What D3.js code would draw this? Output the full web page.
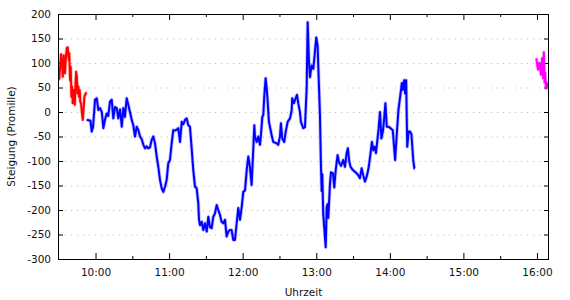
<!DOCTYPE html>
<html><head><meta charset="utf-8">
<script src="https://cdn.jsdelivr.net/npm/d3@7"></script>
<style>body{margin:0;background:#fff}svg{display:block}text{font-family:"DejaVu Sans",Verdana,sans-serif;fill:#111}</style>
</head><body><svg id="c" width="570" height="300"></svg>
<script>
// times are minutes since midnight
const redTime=[569.7,570.5,571.9,572.7,573.3,574.1,574.6,575.1,575.7,576.5,577.3,578.2,578.6,579.2,579.8,580.3,580.8,581.4,582.0,582.5,583.1,583.7,584.2,584.8,585.3,586.0,586.5,587.1,587.6,588.2,588.8,589.6,590.4,590.9,592.0,592.8];
const redVal=[65,69,118,99,72,116,86,79,106,130,132,106,120,65,92,31,52,18,45,31,15,59,82,72,38,52,31,45,20,18,1,-16,11,31,38,40];
const blueTime=[592.8,594.3,595.9,596.9,598.0,599.6,601.0,602.3,603.7,605.1,606.4,607.7,609.1,610.4,611.8,613.2,614.5,615.9,617.3,618.6,620.0,621.4,622.7,624.0,625.4,626.7,628.1,629.5,630.8,632.2,633.6,634.9,636.3,637.6,639.0,640.4,641.7,643.0,644.4,645.8,647.1,648.5,649.9,651.2,652.6,654.0,655.3,656.7,658.0,659.3,660.7,662.1,663.4,664.8,666.2,667.5,668.9,670.3,671.6,673.0,674.3,675.7,677.0,678.4,679.7,681.1,682.5,683.8,684.4,685.2,686.6,687.9,689.3,690.7,692.0,693.3,694.7,696.0,697.4,698.8,700.1,701.5,702.8,704.2,705.6,706.9,708.3,709.6,711.0,712.3,713.7,715.1,716.4,717.8,719.2,720.5,721.9,723.3,724.6,725.9,727.3,728.6,729.5,730.0,731.4,732.7,734.1,734.9,736.0,736.8,737.6,738.7,739.6,740.4,741.4,743.6,744.9,747.7,749.0,750.4,751.2,752.3,753.9,755.1,756.7,758.6,760.0,760.4,761.8,763.2,764.3,765.3,766.7,767.5,769.4,770.8,772.2,773.0,774.0,774.9,776.2,777.6,778.9,780.0,781.1,782.2,783.0,783.8,784.4,784.9,785.7,786.5,787.7,788.5,789.3,789.8,791.2,792.0,793.6,794.7,795.8,797.4,798.5,800.2,802.0,803.4,804.8,805.8,806.9,808.0,809.7,811.5,812.9,814.2,815.6,817.0,818.3,819.7,821.1,822.4,823.2,824.3,825.4,826.5,827.6,828.7,830.9,832.0,833.1,834.3,835.3,836.4,837.5,838.8,840.6,842.4,844.3,845.7,847.0,848.4,849.8,850.6,851.7,852.5,853.3,854.2,855.3,856.4,857.6,859.1,860.0,860.5];
const blueVal=[-16,-17,-18,-40,-30,25,28,4,8,0,-33,-16,-3,-8,21,25,-13,10,8,-13,5,-30,8,-10,28,15,0,-16,-27,-50,-30,-37,-50,-55,-67,-74,-70,-74,-72,-57,-50,-64,-91,-112,-139,-156,-163,-152,-139,-105,-98,-64,-37,-38,-36,-33,-61,-20,-25,-16,-13,-27,-30,-74,-118,-152,-156,-186,-220,-231,-224,-241,-227,-244,-214,-235,-237,-214,-207,-190,-200,-210,-224,-227,-220,-254,-244,-241,-241,-261,-261,-227,-196,-220,-194,-163,-160,-118,-91,-112,-149,-78,-27,-50,-61,-50,-67,-47,-10,-6,31,69,48,21,-20,-47,-61,-64,-67,-50,-23,-54,-61,-40,-20,-13,4,28,18,28,35,18,0,-20,-33,-31,50,183,105,71,95,88,122,152,135,54,-4,-106,-161,-127,-208,-235,-276,-194,-188,-216,-147,-123,-125,-154,-120,-88,-102,-110,-98,-112,-84,-74,-101,-112,-118,-122,-125,-129,-135,-115,-129,-142,-132,-118,-105,-84,-61,-78,-71,-84,-33,0,-54,-40,-16,18,-30,-30,-33,-37,-98,-44,4,31,59,45,65,38,65,-71,-40,-40,-45,-98,-115,-115];
const magTime=[959.5,960.2,961.0,961.5,962.4,963.2,963.7,964.2,965.0,965.6,966.2,966.7,967.3,968.1,968.9,969.7];
const magVal=[110,95,86,100,99,76,95,110,69,122,60,80,48,59,52,55];
const yTicks=[200,150,100,50,0,-50,-100,-150,-200,-250,-300];
const xMajor=[600,660,720,780,840,900,960];
const xMinor=[630,690,750,810,870,930];
const xLabels=["10:00","11:00","12:00","13:00","14:00","15:00","16:00"];
const yTitle="Steigung (Promille)", xTitle="Uhrzeit";

const L=58,R=549,T=14,B=259;
const svg=d3.select("#c");
const x=d3.scaleLinear().domain([569.4,969.8]).range([L,R]);
const y=d3.scaleLinear().domain([-300,200]).range([B,T]);

// grid
svg.append("g").selectAll("line").data(yTicks.filter(v=>v<200&&v>-300)).join("line")
  .attr("x1",L+1).attr("x2",R-1).attr("y1",d=>y(d)+0.5).attr("y2",d=>y(d)+0.5)
  .attr("stroke","#bbb").attr("stroke-width",1).attr("stroke-dasharray","1,5");

// axes (ticks inward)
const fmt=d=>xLabels[xMajor.indexOf(d)];
const bx=svg.append("g").attr("transform",`translate(0,${B})`)
  .call(d3.axisBottom(x).tickValues(xMajor).tickFormat(fmt).tickSizeInner(-6).tickSizeOuter(0).tickPadding(10));
const bxm=svg.append("g").attr("transform",`translate(0,${B})`)
  .call(d3.axisBottom(x).tickValues(xMinor).tickFormat("").tickSizeInner(-3).tickSizeOuter(0));
const tx=svg.append("g").attr("transform",`translate(0,${T})`)
  .call(d3.axisTop(x).tickValues(xMajor).tickFormat("").tickSizeInner(-6).tickSizeOuter(0));
const txm=svg.append("g").attr("transform",`translate(0,${T})`)
  .call(d3.axisTop(x).tickValues(xMinor).tickFormat("").tickSizeInner(-3).tickSizeOuter(0));
const ly=svg.append("g").attr("transform",`translate(${L},0)`)
  .call(d3.axisLeft(y).tickValues(yTicks).tickFormat(d=>String(d).replace("−","-")).tickSizeInner(-5).tickSizeOuter(0).tickPadding(7));
const ry=svg.append("g").attr("transform",`translate(${R},0)`)
  .call(d3.axisRight(y).tickValues(yTicks).tickFormat("").tickSizeInner(-5).tickSizeOuter(0));
[bx,bxm,tx,txm,ly,ry].forEach(g=>{g.select(".domain").remove();g.selectAll("line").attr("stroke","#000");
  g.selectAll("text").attr("font-size","10.5px").attr("fill","#111").attr("font-family","DejaVu Sans, sans-serif");});

// clip
svg.append("clipPath").attr("id","clip").append("rect").attr("x",L).attr("y",T).attr("width",R-L).attr("height",B-T);
const line=d3.line().x(d=>x(d[0])).y(d=>y(d[1]));
const series=[[redTime,redVal,"#ff0000"],[blueTime,blueVal,"#0000ff"],[magTime,magVal,"#ff00ff"]];
const pg=svg.append("g").attr("clip-path","url(#clip)");
series.forEach(([t,v,c])=>{
  const pts=t.map((d,i)=>[d,v[i]]);
  pg.append("path").attr("d",line(pts)).attr("fill","none").attr("stroke",c).attr("stroke-opacity",0.25).attr("stroke-width",3.6).attr("stroke-linejoin","round");
  pg.append("path").attr("d",line(pts)).attr("fill","none").attr("stroke",c).attr("stroke-width",2).attr("stroke-linejoin","round");
});

// border
svg.append("rect").attr("x",L+0.5).attr("y",T+0.5).attr("width",R-L-1).attr("height",B-T).attr("fill","none").attr("stroke","#000").attr("stroke-width",1);

// titles
svg.append("text").attr("x",(L+R)/2).attr("y",296).attr("text-anchor","middle").attr("font-size","10.5px").text(xTitle);
svg.append("text").attr("transform",`translate(15,${(T+B)/2}) rotate(-90)`).attr("text-anchor","middle").attr("font-size","10.5px").text(yTitle);
</script></body></html>
